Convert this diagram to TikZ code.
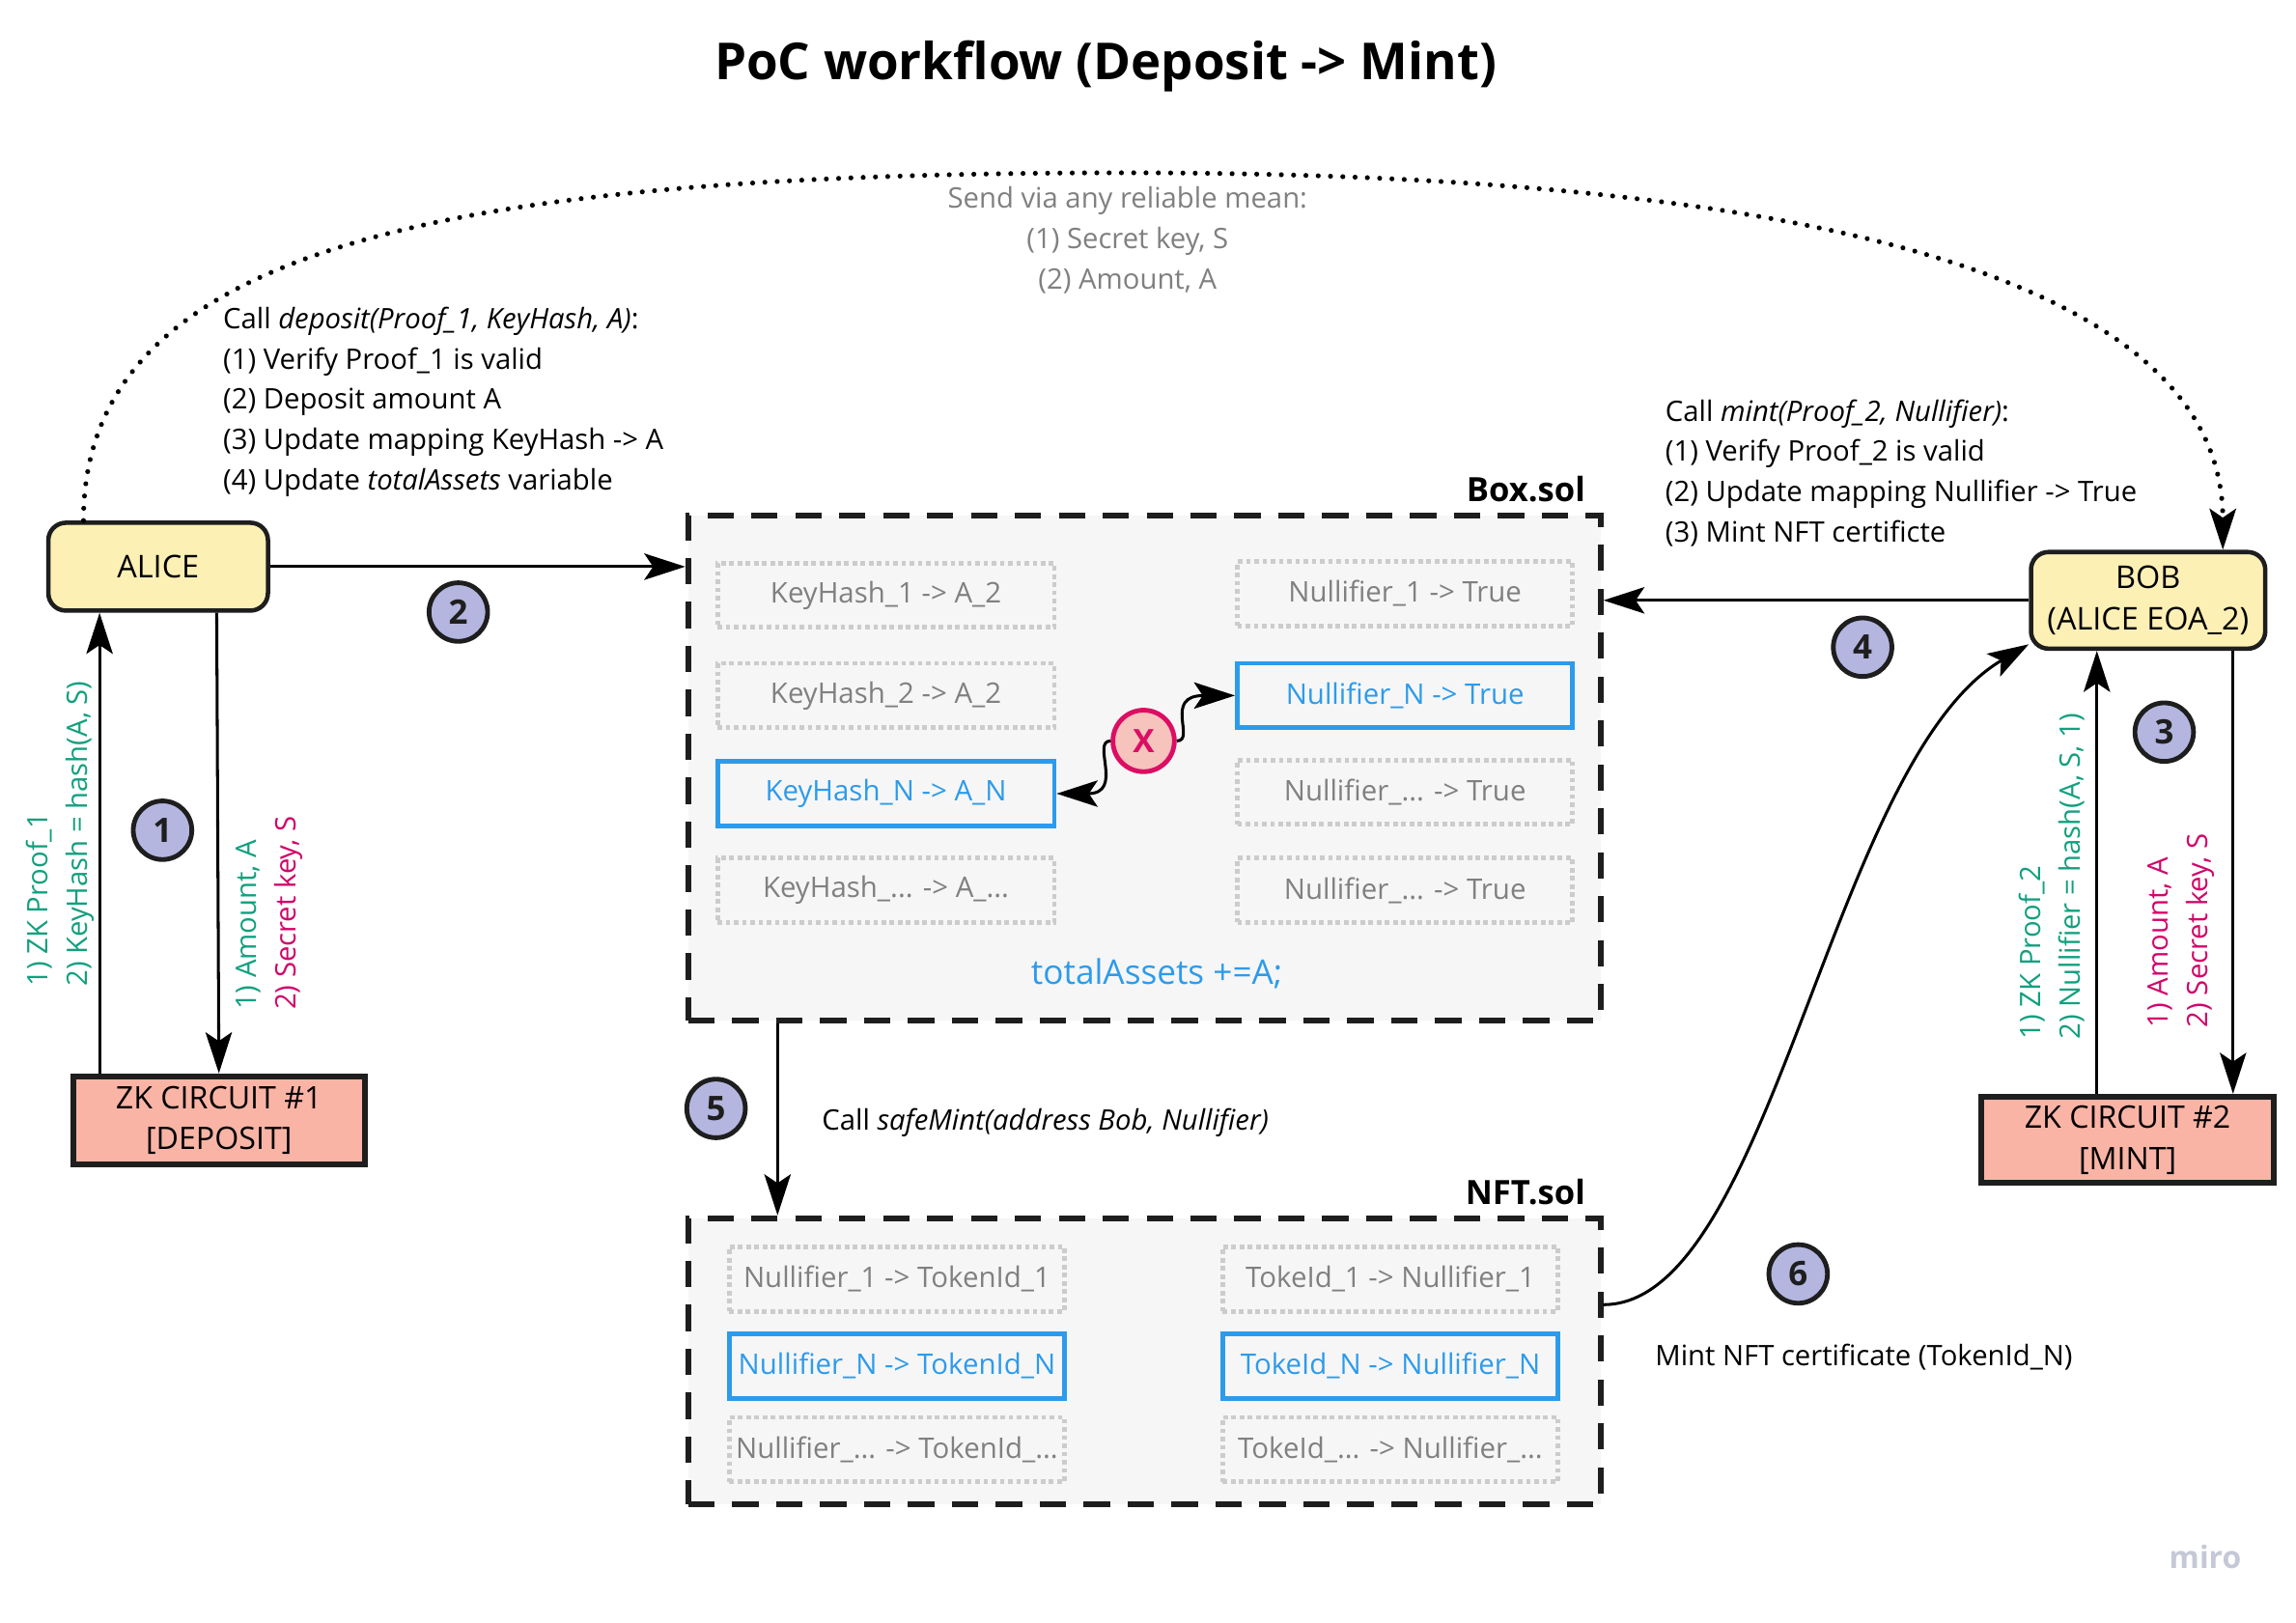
\documentclass[tikz,border=0pt]{standalone}
\usepackage{fontspec}
\setmainfont{Open Sans}
\usetikzlibrary{arrows.meta}
\definecolor{yel}{HTML}{FDF0B5}
\definecolor{sal}{HTML}{F9B4A6}
\definecolor{lav}{HTML}{B4B6E0}
\definecolor{grn}{HTML}{12A07E}
\definecolor{mag}{HTML}{D1066A}
\definecolor{blu}{HTML}{2D9BEB}
\definecolor{gtxt}{HTML}{808080}
\definecolor{gdot}{HTML}{CCCCCC}
\definecolor{cfill}{HTML}{F6F6F6}
\definecolor{xfill}{HTML}{F6C3BD}
\definecolor{xline}{HTML}{DC0E63}
\definecolor{dk}{HTML}{1E1E1E}
\definecolor{miroc}{HTML}{C5C8D6}
\tikzset{
  body/.style={font=\fontsize{9.65}{13.75}\selectfont, inner sep=0pt},
  person/.style={draw=dk, line width=1.5pt, rounded corners=6pt, fill=yel, align=center, inner sep=0pt, font=\fontsize{10.7}{14}\selectfont},
  circuit/.style={draw=dk, line width=2pt, fill=sal, align=center, inner sep=0pt, font=\fontsize{10.6}{14}\selectfont},
  container/.style={draw=dk, fill=cfill, line width=2pt, dash pattern=on 9pt off 6pt, inner sep=0pt},
  slot/.style={draw=gdot, line width=1.6pt, dash pattern=on 1.6pt off 1.2pt, minimum height=22pt, text=gtxt, inner sep=0pt, font=\fontsize{9.7}{11}\selectfont},
  bslot/.style={draw=blu, line width=1.6pt, minimum height=22pt, text=blu, inner sep=0pt, font=\fontsize{9.7}{11}\selectfont},
  stepnum/.style={circle, draw=dk, line width=1.6pt, fill=lav, minimum size=20pt, inner sep=0pt, font=\bfseries\fontsize{11.5}{12}\selectfont, text=dk},
  arr/.style={line width=1pt, draw=black, -{Stealth[length=14pt,width=9pt,inset=3pt]}},
  dotline/.style={line width=1.7pt, dash pattern=on 0pt off 4.2pt, line cap=round, -{Stealth[length=14pt,width=9pt,inset=3pt]}},
  rlabel/.style={rotate=90, anchor=west, align=left, inner sep=0pt, font=\fontsize{9.65}{13.5}\selectfont},
}
\begin{document}
\begin{tikzpicture}[x=0.5pt,y=-0.5pt]
\useasboundingbox[fill=white] (0,0) rectangle (1568,1108.4);

% title
\node[inner sep=0pt, font=\bfseries\fontsize{17.4}{20}\selectfont] (title) at (755,45) {PoC workflow (Deposit -> Mint)};

% actors
\node[person, minimum width=75pt, minimum height=30pt] (alice) at (108,387) {ALICE};
\node[person, minimum width=80pt, minimum height=33pt] (bob) at (1467,410) {BOB\\(ALICE EOA\_2)};
\node[circuit, minimum width=99.5pt, minimum height=30pt] (zk1) at (149.5,765) {ZK CIRCUIT \#1\\{[DEPOSIT]}};
\node[circuit, minimum width=100pt, minimum height=29.5pt] (zk2) at (1453,778.5) {ZK CIRCUIT \#2\\{[MINT]}};

% texts
\node[body, text=gtxt, align=center] (send) at (770,164) {Send via any reliable mean:\\(1) Secret key, S\\(2) Amount, A};
\node[body, anchor=west, align=left] (deptxt) at (152,274.5) {Call \textit{deposit(Proof\_1, KeyHash, A)}:\\(1) Verify Proof\_1 is valid\\(2) Deposit amount A\\(3) Update mapping KeyHash -> A\\(4) Update \textit{totalAssets} variable};
\node[body, anchor=west, align=left] (minttxt) at (1137,323) {Call \textit{mint(Proof\_2, Nullifier)}:\\(1) Verify Proof\_2 is valid\\(2) Update mapping Nullifier -> True\\(3) Mint NFT certificte};

% Box.sol
\node[container, minimum width=311.5pt, minimum height=172.5pt] (box) at (781.5,524.5) {};
\node[inner sep=0pt, anchor=east, font=\bfseries\fontsize{11.4}{13}\selectfont] (boxlbl) at (1083,334) {Box.sol};
\node[slot, minimum width=115pt] (k1) at (605,406.5) {KeyHash\_1 -> A\_2};
\node[slot, minimum width=115pt] (k2) at (605,475) {KeyHash\_2 -> A\_2};
\node[bslot, minimum width=115pt] (kn) at (605,542) {KeyHash\_N -> A\_N};
\node[slot, minimum width=115pt] (kd) at (605,608) {KeyHash\_... -> A\_...};
\node[slot, minimum width=114.5pt] (n1) at (959.5,405.5) {Nullifier\_1 -> True};
\node[bslot, minimum width=114.5pt] (nn) at (959.5,475) {Nullifier\_N -> True};
\node[slot, minimum width=114.5pt] (nd1) at (959.5,541) {Nullifier\_... -> True};
\node[slot, minimum width=114.5pt] (nd2) at (959.5,608) {Nullifier\_... -> True};
\node[inner sep=0pt, text=blu, font=\fontsize{11.6}{13}\selectfont] (tot) at (790,665) {totalAssets +=A;};

% X
\node[circle, draw=xline, line width=1.6pt, fill=xfill, minimum size=21pt, inner sep=0pt, text=xline, font=\bfseries\fontsize{11}{12}\selectfont] (xc) at (781,506) {X};
\draw[arr] (xc.west) .. controls (745,506) and (768,542) .. (kn.east);
\draw[arr] (xc.east) .. controls (817,506) and (794,475) .. (nn.west);

% NFT.sol
\node[container, minimum width=311.5pt, minimum height=97.5pt] (nft) at (781.5,929.5) {};
\node[inner sep=0pt, anchor=east, font=\bfseries\fontsize{11.4}{13}\selectfont] (nftlbl) at (1083,814) {NFT.sol};
\node[slot, minimum width=114.5pt] (t1) at (612.5,873.5) {Nullifier\_1 -> TokenId\_1};
\node[bslot, minimum width=114.5pt] (tn) at (612.5,933) {Nullifier\_N -> TokenId\_N};
\node[slot, minimum width=114.5pt] (td) at (612.5,990) {Nullifier\_... -> TokenId\_...};
\node[slot, minimum width=114.5pt] (u1) at (949.5,873.5) {TokeId\_1 -> Nullifier\_1};
\node[bslot, minimum width=114.5pt] (un) at (949.5,933) {TokeId\_N -> Nullifier\_N};
\node[slot, minimum width=114.5pt] (ud) at (949.5,990) {TokeId\_... -> Nullifier\_...};

% step numbers
\node[stepnum] (s1) at (111,567) {1};
\node[stepnum] (s2) at (313,418) {2};
\node[stepnum] (s3) at (1478,500) {3};
\node[stepnum] (s4) at (1272,442) {4};
\node[stepnum] (s5) at (489,757) {5};
\node[stepnum] (s6) at (1228,870) {6};

% connectors
\draw[dotline] ([xshift=-25.5pt]alice.north) .. controls (57,170) and (300,118) .. (770,118)
   .. controls (1200,118) and (1518,180) .. ([xshift=25.5pt]bob.north);
\draw[arr] (alice.east) -- (alice.east -| box.west);
\draw[arr] (bob.west) -- (bob.west -| box.east);
\draw[arr] ([xshift=-40.75pt]zk1.north) -- ([xshift=-20pt]alice.south);
\draw[arr] ([xshift=20pt]alice.south) -- (zk1.north);
\draw[arr] ([xshift=-10.5pt]zk2.north) -- ([xshift=-17.5pt]bob.south);
\draw[arr] ([xshift=29pt]bob.south) -- ([xshift=36pt]zk2.north);
\draw[arr] ([xshift=-125.25pt]box.south) -- ([xshift=-125.25pt]nft.north);
\draw[arr] ([yshift=19.25pt]nft.east) .. controls (1210,891) and (1250,520) .. ([yshift=-15pt]bob.west);

% rotated labels
\node[rlabel, text=grn] (l1) at (41,674) {1) ZK Proof\_1\\2) KeyHash = hash(A, S)};
\node[rlabel] (l2) at (184,690) {\textcolor{grn}{1) Amount, A}\\\textcolor{mag}{2) Secret key, S}};
\node[rlabel, text=grn] (l3) at (1401.5,710) {1) ZK Proof\_2\\2) Nullifier = hash(A, S, 1)};
\node[rlabel, text=mag] (l4) at (1489.5,702) {1) Amount, A\\2) Secret key, S};

% other labels
\node[body, anchor=west] (safe) at (561,766.5) {Call \textit{safeMint(address Bob, Nullifier)}};
\node[body, anchor=west] (mintnft) at (1130,926.5) {Mint NFT certificate (TokenId\_N)};
\node[inner sep=0pt, text=miroc, font=\bfseries\fontsize{10.5}{12}\selectfont] (miro) at (1506,1063) {miro};
\end{tikzpicture}
\end{document}
